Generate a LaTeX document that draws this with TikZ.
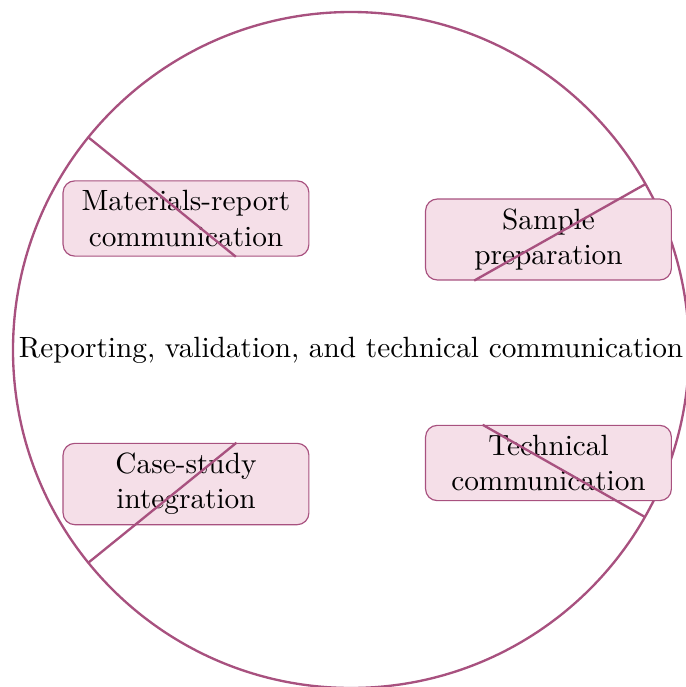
\documentclass[tikz,border=0pt]{standalone}
\usepackage{xcolor}
\definecolor{ring-plum}{HTML}{A8517F}
\definecolor{topic-pink}{HTML}{F5DFE8}
\begin{document}
\begin{tikzpicture}[
    font=\normalsize,
    ring/.style={draw=ring-plum, line width=0.8pt},
    spoke/.style={draw=ring-plum, line width=0.8pt},
    topic/.style={draw=ring-plum, fill=topic-pink, line width=0.4pt, rounded corners=4pt, align=center, minimum width=2.95cm, inner sep=3.33pt}
]
\useasboundingbox (-4.212,-4.044) rectangle (4.008,4.2);
\coordinate (hub) at (0,0);
\draw[ring] (hub) circle (4.056);

\node (title) at (hub) {Reporting, validation, and technical communication};

\node[topic] (matrep) at (-1.98,1.578) {Materials-report\\communication};
\node[topic] (sampprep) at (2.37,1.326) {Sample\\preparation};
\node[topic] (casestudy) at (-1.98,-1.608) {Case-study\\integration};
\node[topic] (techcomm) at (2.37,-1.356) {Technical\\communication};

\coordinate (rim-a) at (141:4.056);
\coordinate (rim-b) at (29.4:4.056);
\coordinate (rim-c) at (219:4.056);
\coordinate (rim-d) at (-29.6:4.056);

\draw[spoke] (rim-a) -- (intersection of rim-a--hub and matrep.south west--matrep.south east);
\draw[spoke] (rim-b) -- (intersection of rim-b--hub and sampprep.south west--sampprep.south east);
\draw[spoke] (rim-c) -- (intersection of rim-c--hub and casestudy.north west--casestudy.north east);
\draw[spoke] (rim-d) -- (intersection of rim-d--hub and techcomm.north west--techcomm.north east);
\end{tikzpicture}
\end{document}
